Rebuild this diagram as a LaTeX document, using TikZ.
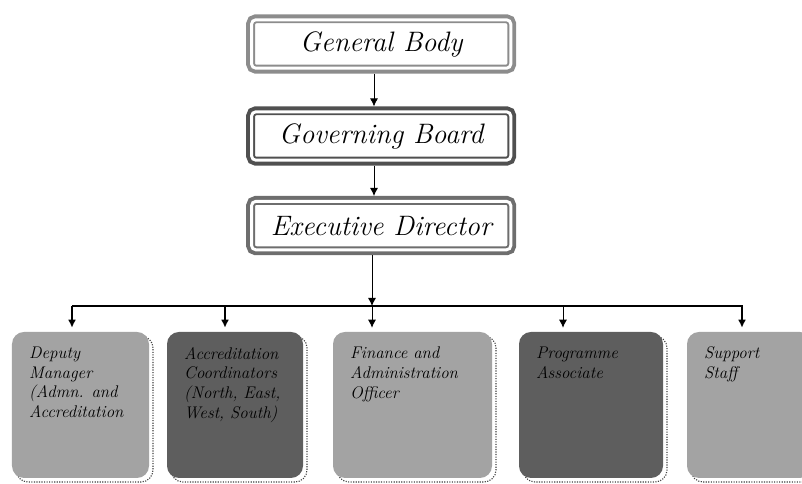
\documentclass[tikz,border=0pt]{standalone}
\usepackage{fontspec}
\usetikzlibrary{arrows.meta}
\definecolor{lightbox}{RGB}{163,163,163}
\definecolor{darkbox}{RGB}{94,94,94}
\definecolor{frameA}{RGB}{140,140,140}
\definecolor{frameB}{RGB}{80,80,80}
\definecolor{frameC}{RGB}{110,110,110}
\tikzset{
topbox/.style={rounded corners=3pt, fill=white, draw=#1, line width=4.9pt,
  preaction={draw=#1, line width=7.7pt},
  postaction={draw=white, line width=2.1pt},
  minimum width=6.48cm, minimum height=1.21cm, outer sep=3.85pt,
  font=\fontsize{20}{24}\selectfont\itshape},
staffbox/.style={rounded corners=0.3cm, fill=#1, inner sep=0pt,
  preaction={draw=black!75, densely dotted, line width=0.8pt,
    transform canvas={shift={(0.1,-0.1)}}}},
stafftext/.style={anchor=north west, inner sep=0pt, align=left,
  font=\fontsize{12}{14}\selectfont\itshape},
>={Latex[length=2mm,width=2mm]}
}
\begin{document}
\begin{tikzpicture}
\useasboundingbox (0,0) rectangle (20.05,12.1);
%\draw[step=0.5cm,gray,very thin] (0,0) grid (20,12); %background grid
\node[topbox=frameA] (genbody) at (9.53,11.0) {General Body};
\node[topbox=frameB] (govboard) at (9.53,8.7) {Governing Board};
\node[topbox=frameC] (execdir) at (9.53,6.46) {Executive Director};
\draw[semithick, ->] ([xshift=-0.18cm]genbody.south) -- ([xshift=-0.18cm]govboard.north);
\draw[semithick, ->] ([xshift=-0.18cm]govboard.south) -- ([xshift=-0.18cm]execdir.north);

\node[staffbox=lightbox, minimum width=3.425cm, minimum height=3.65cm] (deputy) at (2.0125,1.975) {};
\node[staffbox=darkbox, minimum width=3.4cm, minimum height=3.65cm] (accred) at (5.875,1.975) {};
\node[staffbox=lightbox, minimum width=3.975cm, minimum height=3.65cm] (finance) at (10.3125,1.975) {};
\node[staffbox=darkbox, minimum width=3.6cm, minimum height=3.65cm] (progassoc) at (14.775,1.975) {};
\node[staffbox=lightbox, minimum width=3.125cm, minimum height=3.65cm] (support) at (18.7375,1.975) {};

\node[stafftext] (deputytxt) at ([shift={(0.43,-0.375)}]deputy.north west) {Deputy\\Manager\\(Admn. and\\Accreditation};
\node[stafftext] (accredtxt) at ([shift={(0.43,-0.375)}]accred.north west) {Accreditation\\Coordinators\\(North, East,\\West, South)};
\node[stafftext] (financetxt) at ([shift={(0.43,-0.375)}]finance.north west) {Finance and\\Administration\\Officer};
\node[stafftext] (progassoctxt) at ([shift={(0.43,-0.375)}]progassoc.north west) {Programme\\Associate};
\node[stafftext] (supporttxt) at ([shift={(0.43,-0.375)}]support.north west) {Support\\Staff};

% bus line
\coordinate (b1) at (1.8,4.45);
\coordinate (b2) at (5.625,4.45);
\coordinate (b3) at (9.3,4.45);
\coordinate (b4) at (14.075,4.45);
\coordinate (b5) at (18.55,4.45);
\coordinate (bend) at (18.575,4.45);
\draw[semithick, ->] ([xshift=-0.23cm]execdir.south) -- (b3);
\draw[line width=1.2pt] (b1) -- (bend);
\draw[line width=1.2pt, ->, shorten >=0.1cm] (b1) -- (b1 |- deputy.north);
\draw[line width=1.2pt, ->, shorten >=0.1cm] (b2) -- (b2 |- accred.north);
\draw[semithick, ->, shorten >=0.1cm] (b3) -- (b3 |- finance.north);
\draw[semithick, ->, shorten >=0.1cm] (b4) -- (b4 |- progassoc.north);
\draw[line width=1.2pt, ->, shorten >=0.1cm] (b5) -- (b5 |- support.north);
\end{tikzpicture}
\end{document}
